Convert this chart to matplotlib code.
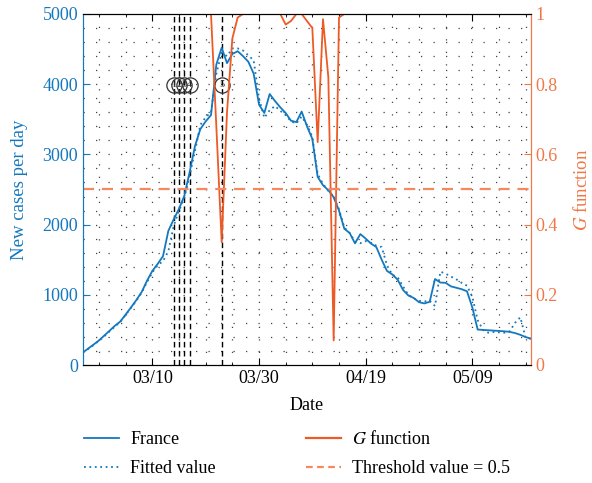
import matplotlib
matplotlib.use("Agg")
import matplotlib.pyplot as plt
import matplotlib.dates as mdates
from matplotlib.lines import Line2D
import pandas as pd
import numpy as np

plt.rcParams['font.family'] = ['Liberation Serif', 'DejaVu Serif']
plt.rcParams['mathtext.fontset'] = 'stix'

dates = pd.date_range('2020-02-26', '2020-05-20', freq='D')

france = [180, 236, 292, 350, 420, 490, 560, 620, 720, 820,
          925, 1040, 1200, 1340, 1440, 1550, 1910, 2075, 2225, 2410,
          2750, 3120, 3360, 3470, 3560, 4280, 4520, 4300, 4430, 4470,
          4400, 4320, 4150, 3710, 3590, 3860, 3760, 3670, 3590, 3480,
          3460, 3610, 3400, 3220, 2680, 2560, 2490, 2390, 2200, 1940,
          1880, 1733, 1865, 1800, 1730, 1680, 1500, 1340, 1290, 1215,
          1070, 990, 955, 895, 877, 900, 1225, 1175, 1170, 1120,
          1100, 1080, 1050, 820, 505, 500, 495, 490, 485, 480,
          472, 455, 430, 398, 375]

fitted = [180, 230, 285, 345, 410, 480, 550, 615, 715, 815,
          915, 1030, 1180, 1320, 1420, 1480, 1620, 1980, 2200, 2380,
          2700, 3050, 3420, 3530, 3600, 4150, 4450, 4400, 4510, 4510,
          4480, 4410, 4340, 3800, 3520, 3630, 3690, 3620, 3560, 3470,
          3440, 3540, 3420, 3250, 2720, 2580, 2480, 2400, 2220, 1960,
          1880, 1760, 1735, 1765, 1740, 1700, 1680, 1420, 1285, 1250,
          1120, 1000, 950, 915, 905, 915, 840, 1330, 1300, 1260,
          1220, 1170, 1130, 970, 640, 500, 460, 470, 465, 460,
          480, 600, 680, 385, 375]

g_func = [1] * 25 + [0.68, 0.35, 0.72, 0.93, 0.99] + [1] * 8 + [0.97, 0.98, 1, 1,
          0.98, 0.96, 0.635, 0.985, 0.82, 0.07, 0.99] + [1] * 36

event_dates = ['2020-03-14', '2020-03-15', '2020-03-16', '2020-03-17', '2020-03-23']
event_labels = ['1', '2', '3', '4', '5']
threshold = 0.5

blue = '#1478BE'
orange = '#EE5A26'
orange_light = '#F4895F'
orange_axis = '#F07848'

fig = plt.figure(figsize=(5.92, 4.83), dpi=100)
ax = fig.add_axes([83/592, 1-365/483, (531-83)/592, (365-14)/483])
ax2 = ax.twinx()

ax.set_xlim(dates[0], dates[-1])
ax.set_ylim(0, 5000)
ax2.set_ylim(0, 1)
major = pd.to_datetime(['2020-03-10', '2020-03-30', '2020-04-19', '2020-05-09'])
minor = pd.date_range('2020-02-29', '2020-05-20', freq='5D')
ax.set_xticks(major)
ax.set_xticks(minor, minor=True)
ax.xaxis.set_major_formatter(mdates.DateFormatter('%m/%d'))
ax.set_yticks(np.arange(0, 5001, 1000))
ax.set_yticks(np.arange(0, 5001, 200), minor=True)
for xv in minor:
    ax.axvline(xv, color='#444444', lw=0.9, ls=(0, (1, 9)), zorder=0)
for yv in np.arange(200, 5000, 200):
    ax.axhline(yv, color='#444444', lw=0.9, ls=(0, (1, 9)), zorder=0)

ax.tick_params(axis='y', which='minor', length=0)
ax.tick_params(axis='x', which='both', direction='in', top=True, colors='black')
ax.tick_params(axis='x', which='major', length=5)
ax.tick_params(axis='x', which='minor', length=2.5)
ax.tick_params(axis='y', which='major', direction='in', colors=blue, length=5, labelsize=13)
ax.tick_params(axis='x', labelsize=13)
ax2.tick_params(axis='y', direction='in', colors=orange_axis, length=5, labelsize=13)
ax2.set_yticks([0, 0.2, 0.4, 0.6, 0.8, 1])
ax2.set_yticklabels(['0', '0.2', '0.4', '0.6', '0.8', '1'])

ax.spines['left'].set_color(blue)
ax2.spines['left'].set_color(blue)
ax2.spines['right'].set_color(orange_axis)
ax.spines['right'].set_color(orange_axis)

ev = pd.to_datetime(event_dates)
for d, lab in zip(ev, event_labels):
    ax.axvline(d, color='black', lw=1.0, ls=(0, (4, 2.5)), zorder=1)
    ax.plot([d], [3990], marker='o', ms=11, mfc='none', mec='#333333', mew=0.9, zorder=5)
    ax.text(d, 3990, lab, ha='center', va='center', fontsize=7.5, color='#333333', zorder=6)

ax.plot(dates, france, color=blue, lw=1.3, zorder=3)
ax.plot(dates, fitted, color=blue, lw=1.3, ls=(0, (1, 2)), zorder=3)
ax2.plot(dates, g_func, color=orange, lw=1.3, zorder=2)
ax2.axhline(threshold, color=orange_light, lw=1.6, ls=(0, (5, 3.5)), zorder=2)

ax.set_xlabel('Date', fontsize=13, labelpad=7)
ax.set_ylabel('New cases per day', fontsize=13.5, color=blue, labelpad=10)
ax2.set_ylabel('$G$ function', fontsize=13.5, color=orange_axis, labelpad=11)

handles = [Line2D([], [], color=blue, lw=1.3),
           Line2D([], [], color=blue, lw=1.3, ls=(0, (1, 2))),
           Line2D([], [], color=orange, lw=1.6),
           Line2D([], [], color=orange_light, lw=1.6, ls=(0, (3, 2)))]
labels = ['France', 'Fitted value', '$G$ function', 'Threshold value = 0.5']
fig.legend(handles, labels, ncol=2, loc='upper left', bbox_to_anchor=(68/592, 1-414/483),
           frameon=False, fontsize=13, handlelength=1.9, handletextpad=0.65,
           columnspacing=5.0, labelspacing=0.65)

fig.savefig('out.png', dpi=100)
